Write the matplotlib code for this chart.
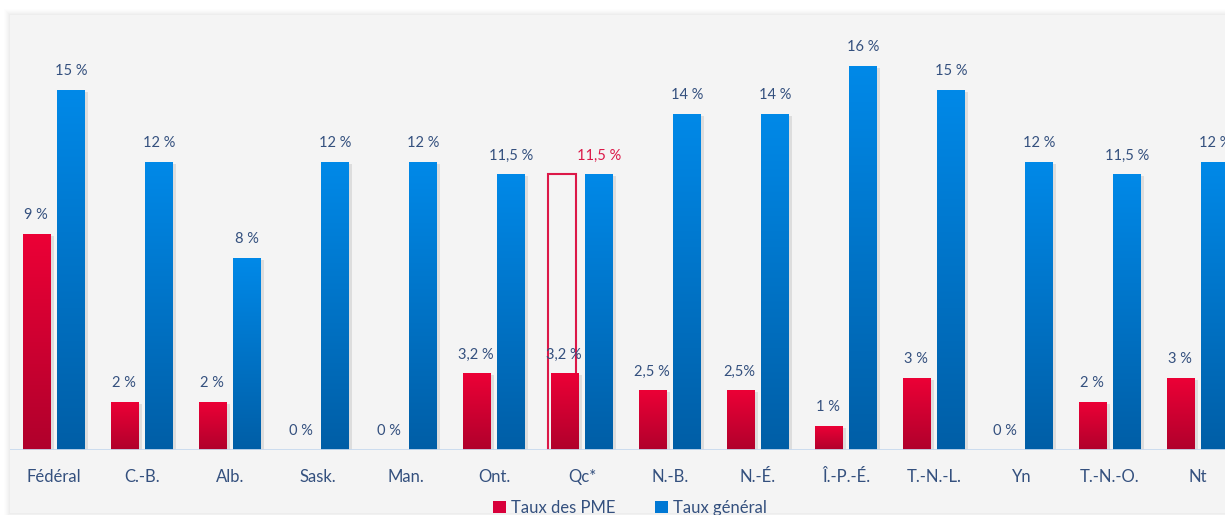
import matplotlib
matplotlib.use("Agg")
import matplotlib.pyplot as plt
import numpy as np
from matplotlib.colors import LinearSegmentedColormap
from matplotlib.patches import Rectangle, Patch
import matplotlib.patheffects as pe

# ---- data -------------------------------------------------------------
categories = ["Fédéral", "C.-B.", "Alb.", "Sask.", "Man.", "Ont.", "Qc*",
              "N.-B.", "N.-É.", "Î.-P.-É.", "T.-N.-L.", "Yn", "T.-N.-O.", "Nt"]
taux_pme = [9, 2, 2, 0, 0, 3.2, 3.2, 2.5, 2.5, 1, 3, 0, 2, 3]
taux_general = [15, 12, 8, 12, 12, 11.5, 11.5, 14, 14, 16, 15, 12, 11.5, 12]
labels_pme = ["9 %", "2 %", "2 %", "0 %", "0 %", "3,2 %", "3,2 %",
              "2,5 %", "2,5%", "1 %", "3 %", "0 %", "2 %", "3 %"]
labels_general = ["15 %", "12 %", "8 %", "12 %", "12 %", "11,5 %", "11,5 %",
                  "14 %", "14 %", "16 %", "15 %", "12 %", "11,5 %", "12 %"]
qc_index = 6
qc_outline = 11.5          # Québec PME rate shown as an outline at the general rate
legend_labels = ["Taux des PME", "Taux général"]

# ---- style ------------------------------------------------------------
plt.rcParams["font.family"] = ["Lato", "DejaVu Sans"]
TEXT = "#34507e"
HIGHLIGHT = "#dc1848"
red_cmap = LinearSegmentedColormap.from_list("red", ["#b0002c", "#ec0036"])
blue_cmap = LinearSegmentedColormap.from_list("blue", ["#005ea6", "#0089e8"])

W, H = 1225, 515
fig = plt.figure(figsize=(W / 100, H / 100), dpi=100)
fig.patch.set_facecolor("white")

# light grey panel with a soft halo
for k, a in [(6, 0.006), (5, 0.008), (4, 0.01), (3, 0.012), (2, 0.014), (1, 0.016)]:
    fig.patches.append(Rectangle(((10 - k) / W, (H - 513 - k) / H), (W + 20) / W,
                                 (498 + 2 * k) / H, transform=fig.transFigure,
                                 facecolor="black", alpha=a, edgecolor="none", zorder=-20))
fig.patches.append(Rectangle((10 / W, (H - 513) / H), (W + 20) / W, 498 / H,
                             transform=fig.transFigure, facecolor="#f4f4f4",
                             edgecolor="none", zorder=-10))

ax = fig.add_axes([10 / W, (H - 450) / H, (W - 10) / W, (450 - 15) / H])
ax.patch.set_alpha(0)
xlim = (-0.5, -0.5 + (W - 10) / 88)
ylim = (0, (450 - 15) / 24)

x = np.arange(len(categories))
off = 17 / 88
w = 28 / 88

# Québec outline bar (behind the PME bar)
ax.bar(x[qc_index] - off - 3 / 88, qc_outline, w * 0.97, fill=False,
       edgecolor=HIGHLIGHT, linewidth=1.5, zorder=1)

shadow = [pe.SimplePatchShadow(offset=(2, -1.5), shadow_rgbFace="black", alpha=0.09),
          pe.Normal()]

grad = np.linspace(0, 1, 256).reshape(-1, 1)


def gradient_bars(xpos, values, cmap):
    bars = ax.bar(xpos, values, w, color=cmap(0.5), zorder=2)
    for b, v in zip(bars, values):
        if v <= 0:
            continue
        b.set_path_effects(shadow)
        im = ax.imshow(grad, cmap=cmap, origin="lower", aspect="auto",
                       extent=(b.get_x(), b.get_x() + b.get_width(), 0, v),
                       zorder=3, interpolation="bilinear")
        im.set_clip_path(b)
    return bars


gradient_bars(x - off, taux_pme, red_cmap)
gradient_bars(x + off, taux_general, blue_cmap)

for i in x:
    ax.annotate(labels_pme[i], (i - off - (1.5 / 88 if taux_pme[i] else 0), taux_pme[i]),
                xytext=(0, 10.5), textcoords="offset points", ha="center",
                va="baseline", fontsize=10.5, color=TEXT, zorder=5)
    ax.annotate(labels_general[i], (i + off, taux_general[i]),
                xytext=(0, 10.5), textcoords="offset points", ha="center",
                va="baseline", fontsize=10.5,
                color=HIGHLIGHT if i == qc_index else TEXT, zorder=5,
                annotation_clip=False)

ax.axhline(0, color="#c8daee", linewidth=2, zorder=4)

ax.set_xlim(*xlim)
ax.set_ylim(*ylim)
ax.set_xticks(x, categories)
ax.tick_params(axis="x", length=0, pad=13.5, labelsize=12, labelcolor=TEXT)
ax.set_yticks([])
for s in ax.spines.values():
    s.set_visible(False)

handles = [Patch(facecolor="#d8003a"), Patch(facecolor="#0078d4")]
fig.legend(handles, legend_labels, loc="center", bbox_to_anchor=(630 / W, 1 - 508 / H),
           ncol=2, frameon=False, fontsize=12, handlelength=0.75, handleheight=0.75,
           handletextpad=0.3, columnspacing=2.4, labelcolor=TEXT)

fig.savefig("out.png", dpi=100, facecolor="white")
